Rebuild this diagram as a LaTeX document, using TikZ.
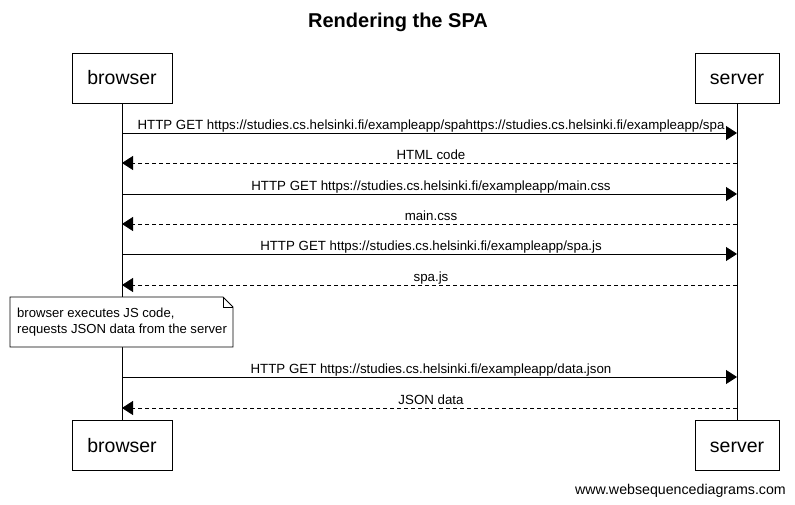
\documentclass[tikz,border=0pt]{standalone}
\usepackage{fontspec}
\setmainfont{Liberation Sans}
\usetikzlibrary{arrows.meta}
\begin{document}
\begin{tikzpicture}[x=1pt,y=-1pt,
  actor/.style={draw,line width=0.8pt,minimum height=50pt,inner sep=0pt,text height=15.5pt,text depth=2.5pt,font=\fontsize{19.5}{24}\selectfont},
  life/.style={line width=0.8pt},
  req/.style={line width=0.8pt,-{Triangle[length=11pt,width=14pt]}},
  resp/.style={line width=0.8pt,dash pattern=on 4pt off 3pt,-{Triangle[length=11pt,width=14pt]}},
  lbl/.style={font=\fontsize{13.3}{16}\selectfont,inner sep=0pt,anchor=base}
]
\useasboundingbox (0,0) rectangle (795,504);
\node[font=\bfseries\fontsize{20}{24}\selectfont] (title) at (398,22) {Rendering the SPA};
\node[actor,minimum width=100pt] (bt) at (122,78) {browser};
\node[actor,minimum width=84pt] (st) at (737,78) {server};
\node[actor,minimum width=100pt] (bb) at (122,445.5) {browser};
\node[actor,minimum width=84pt] (sb) at (737,445.5) {server};
\draw[life] (bt.south) -- (bb.north);
\draw[life] (st.south) -- (sb.north);
% messages
\foreach \y/\t/\s [count=\i] in {
 133/{HTTP GET https://studies.cs.helsinki.fi/exampleapp/spahttps://studies.cs.helsinki.fi/exampleapp/spa}/req,
 163/{HTML code}/resp,
 194/{HTTP GET https://studies.cs.helsinki.fi/exampleapp/main.css}/req,
 224/{main.css}/resp,
 254/{HTTP GET https://studies.cs.helsinki.fi/exampleapp/spa.js}/req,
 285/{spa.js}/resp,
 377/{HTTP GET https://studies.cs.helsinki.fi/exampleapp/data.json}/req,
 408/{JSON data}/resp}{
  \coordinate (l\i) at (bt.south |- 0,\y);
  \coordinate (r\i) at (st.south |- 0,\y);
  \node[lbl] (m\i) at (431,\y-4) {\t};
}
\draw[req] (l1) -- (r1);
\draw[resp] (r2) -- (l2);
\draw[req] (l3) -- (r3);
\draw[resp] (r4) -- (l4);
\draw[req] (l5) -- (r5);
\draw[resp] (r6) -- (l6);
\draw[req] (l7) -- (r7);
\draw[resp] (r8) -- (l8);
% note
\draw[line width=0.8pt,fill=white] (10,297) -- (223,297) -- (233,307) -- (233,347) -- (10,347) -- cycle;
\draw[line width=0.8pt] (223,297) -- (223,307) -- (233,307);
\node[font=\fontsize{13.1}{16}\selectfont,align=left,anchor=north west,inner sep=0pt] (note) at (17,307.5) {browser executes JS code,\\requests JSON data from the server};
\node[font=\fontsize{14.2}{17}\selectfont,anchor=base east,inner sep=0pt] (foot) at (786,494) {www.websequencediagrams.com};
\end{tikzpicture}
\end{document}
